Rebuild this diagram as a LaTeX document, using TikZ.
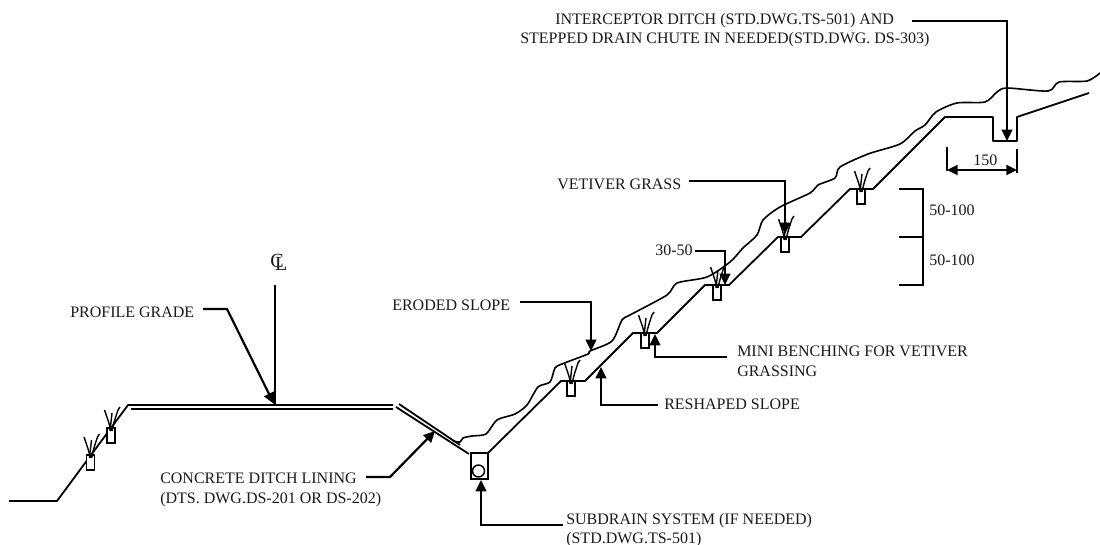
\documentclass[tikz,border=0pt]{standalone}
\usepackage{fontspec}
\setmainfont{Liberation Serif}
\usetikzlibrary{arrows.meta}
\tikzset{
  px/.style={x=0.75pt,y=-0.75pt},
  lbl/.style={inner sep=0pt,anchor=base west,font=\fontsize{12pt}{14pt}\selectfont,text=black!90},
  ground/.style={line width=1.35pt,line join=round},
  leader/.style={line width=1.65pt,line join=miter,-{Triangle[length=8.5pt,width=8pt]}},
  plain/.style={line width=1.3pt},
  blade/.style={line width=1.05pt},
}
\newcommand{\grass}[2]{%
  \draw[plain,fill=white] (#1-4,#2) rectangle (#1+4,#2+15);
  \draw[blade] (#1,#2+3) .. controls (#1-2,#2-5) .. (#1-6.5,#2-18);
  \draw[blade] (#1-1,#2+3) -- (#1+1,#2-15);
  \draw[blade] (#1+1,#2+3) .. controls (#1+3,#2-6) .. (#1+7,#2-18) -- (#1+9,#2-21);
  \draw[blade] (#1-2,#2+1) -- (#1+2,#2+1) (#1,#2-1) -- (#1,#2+3);
}
\begin{document}
\begin{tikzpicture}[px]
\useasboundingbox (0,0) rectangle (1100,545);
% reshaped slope
\draw[ground] (9,501) -- (57,501) -- (128,405) -- (393,405);
\draw[ground] (131,409) -- (393,409);
\draw[ground] (396,407) -- (469,454);
\draw[ground] (399,404) -- (460,445);
\draw[ground] (488,453) -- (561,381) -- (585,381) -- (633,333) -- (657,333) -- (705,285) -- (729,285) -- (778,237) -- (801,237) -- (850,189) -- (873,189) -- (945,117) -- (993,117) -- (993,141) -- (1017,141) -- (1017,117) -- (1089,93);
% eroded slope
\draw[ground,line width=1.2pt] plot[smooth,tension=0.45] coordinates {(453,441) (460,442) (463,438) (472,436) (486,434) (497,420) (515,414) (527,405) (538,387) (550,382) (555,368) (562,364) (588,354) (590,351) (612,341) (622,320) (630,315) (667,295) (677,283) (707,277) (730,262) (743,248) (757,235) (763,220) (780,207) (810,193) (818,185) (835,178) (840,167) (868,154) (900,144) (915,131) (925,125) (936,112) (957,103) (985,102) (997,92) (1007,88) (1048,91) (1059,82) (1087,81) (1100,73)};
% ditch
\draw[plain,line width=1.4pt] (471,453) rectangle (488,479);
\node[draw,circle,line width=1.1pt,minimum size=9pt,inner sep=0pt] (pipe) at (478.5,471) {};
% grass
\grass{90.5}{455}
\grass{111}{428}
\grass{571}{381}
\grass{645}{333}
\grass{717}{285}
\grass{785}{237}
\grass{861}{189}
% anchors
\coordinate (a1) at (1007,141);
\coordinate (a2) at (785,234);
\coordinate (a3) at (725,285);
\coordinate (a4) at (591,351);
\coordinate (a5) at (655,334);
\coordinate (a6) at (601,367);
\coordinate (a7) at (274,404);
\coordinate (a8) at (435,431);
\coordinate (a9) at (481,480);
% labels
\node[lbl] (tInt) at (555,25) {INTERCEPTOR DITCH (STD.DWG.TS-501) AND};
\node[lbl] (tSte) at (520,43.5) {STEPPED DRAIN CHUTE IN NEEDED(STD.DWG. DS-303)};
\node[lbl] (tVet) at (557,190) {VETIVER GRASS};
\node[lbl] (t30) at (655,256) {30-50};
\node[lbl] (tEro) at (392,311) {ERODED SLOPE};
\node[lbl] (tMin) at (737,357) {MINI BENCHING FOR VETIVER};
\node[lbl] (tGra) at (737,377) {GRASSING};
\node[lbl] (tRes) at (664,409) {RESHAPED SLOPE};
\node[lbl] (tPro) at (70,318) {PROFILE GRADE};
\node[lbl] (tCon) at (160,483) {CONCRETE DITCH LINING};
\node[lbl] (tDts) at (160,503) {(DTS. DWG.DS-201 OR DS-202)};
\node[lbl] (tSub) at (566,524) {SUBDRAIN SYSTEM (IF NEEDED)};
\node[lbl] (tStd) at (566,543) {(STD.DWG.TS-501)};
\node[lbl] (t150) at (973,166) {150};
\node[lbl] (t5a) at (929,216) {50-100};
\node[lbl] (t5b) at (929,266) {50-100};
\node[lbl,font=\fontsize{15pt}{15pt}\selectfont] (tCL) at (270,268) {C\kern-0.42em\lower2.2pt\hbox{L}};
% leaders
\draw[leader] (912,21) -- (1007,21) -- (a1);
\draw[leader] (689,181) -- (785,181) -- (a2);
\draw[leader] (695,251) -- (725,251) -- (a3);
\draw[leader] (520,302) -- (591,302) -- (a4);
\draw[leader] (727,357) -- (655,357) -- (a5);
\draw[leader] (658,405) -- (601,405) -- (a6);
\draw[leader] (203,309) -- (227,309) -- (a7);
\coordinate (clt) at (275,285);
\coordinate (clb) at (275,404);
\draw[line width=1.65pt] (clt) -- (clb);
\draw[leader] (366,477) -- (390,477) -- (a8);
\draw[leader] (563,525) -- (481,525) -- (a9);
% dimension
\draw[plain] (947,147) -- (947,171) (1017,149) -- (1017,173);
\coordinate (d1) at (947,170);
\coordinate (d2) at (1017,170);
\draw[line width=1.5pt,{Triangle[length=8pt,width=7.5pt]}-{Triangle[length=8pt,width=7.5pt]}] (d1) -- (d2);
\draw[plain] (899,189) -- (923,189) -- (923,285) -- (899,285) (899,237) -- (923,237);
\end{tikzpicture}
\end{document}
